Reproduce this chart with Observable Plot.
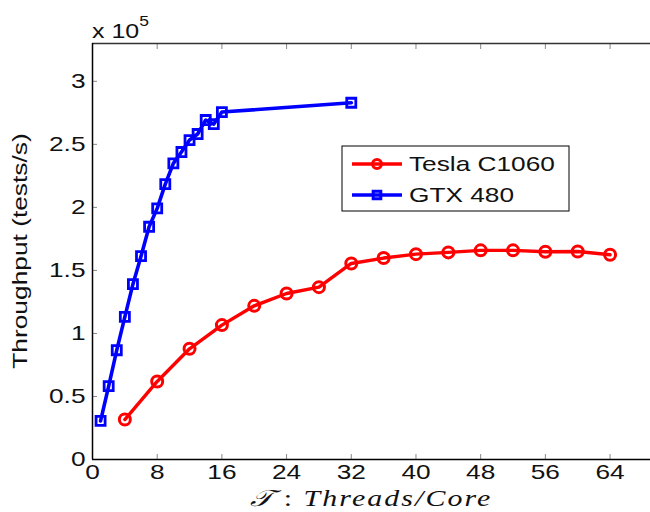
<!DOCTYPE html>
<html><head><meta charset="utf-8">
<script src="https://cdn.jsdelivr.net/npm/d3@7"></script>
<script src="https://cdn.jsdelivr.net/npm/@observablehq/plot@0.6"></script>
<style>body{margin:0;background:#fff} svg{display:block}</style>
</head><body><div id="chart"></div>
<script>
// ---- data ----
const teslaThreads = [4, 8, 12, 16, 20, 24, 28, 32, 36, 40, 44, 48, 52, 56, 60, 64];
const teslaThroughput = [31700, 61900, 87800, 106600, 121900, 131700, 136700, 155500, 159800, 162900, 164300, 165900, 165900, 164800, 165000, 162400];
const gtxThreads = [1, 2, 3, 4, 5, 6, 7, 8, 9, 10, 11, 12, 13, 14, 15, 16, 32];
const gtxThroughput = [30600, 58200, 86700, 113200, 139100, 161300, 184600, 199200, 218500, 234900, 243900, 253400, 258200, 269300, 266100, 275600, 283000];
const seriesNames = ["Tesla C1060", "GTX 480"];
const seriesColors = ["#ff0000", "#0000ff"];
const seriesSymbols = ["circle", "square"];
const xTicks = [0, 8, 16, 24, 32, 40, 48, 56, 64];
const yTicks = [0, 50000, 100000, 150000, 200000, 250000, 300000];
const xDomain = [0, 69];
const yDomain = [0, 330000];
const yExponent = 5;
const xLabel = "Threads/Core";
const yLabel = "Throughput (tests/s)";

const tesla = teslaThreads.map((t, i) => ({t, v: teslaThroughput[i]}));
const gtx = gtxThreads.map((t, i) => ({t, v: gtxThroughput[i]}));

const SANS = "'Liberation Sans', Arial, Helvetica, sans-serif";
const STRETCH = 1.25;

const plot = Plot.plot({
  width: 650, height: 512,
  marginLeft: 92, marginRight: 0, marginTop: 43, marginBottom: 53,
  style: {fontFamily: SANS, fontSize: "21px", background: "white", color: "black", overflow: "visible"},
  x: {domain: xDomain},
  y: {domain: yDomain},
  marks: [
    Plot.axisX(xTicks, {anchor: "bottom", tickSize: -5, stroke: "#888", text: null, label: null}),
    Plot.axisX(xTicks, {anchor: "top", tickSize: -5, stroke: "#888", text: null, label: null}),
    Plot.axisY(yTicks, {anchor: "left", tickSize: -5, stroke: "#888", text: null, label: null}),
    Plot.axisX(xTicks, {anchor: "bottom", tickSize: 0, tickPadding: 5, label: null, fill: "#111"}),
    Plot.axisY(yTicks, {anchor: "left", tickSize: 0, tickPadding: 7, label: null, fill: "#111", tickFormat: d => String(d / 10 ** yExponent)}),
    Plot.ruleY([yDomain[0]], {stroke: "#000", strokeWidth: 1.5}),
    Plot.ruleY([yDomain[1]], {stroke: "#333", strokeWidth: 1.5}),
    Plot.ruleX([xDomain[0]], {stroke: "#000", strokeWidth: 1.5}),
    Plot.line(tesla, {x: "t", y: "v", stroke: seriesColors[0], strokeWidth: 3.4}),
    Plot.dot(tesla, {x: "t", y: "v", r: 5.5, symbol: seriesSymbols[0], stroke: seriesColors[0], strokeWidth: 3, fill: "none"}),
    Plot.line(gtx, {x: "t", y: "v", stroke: seriesColors[1], strokeWidth: 3.6}),
    Plot.dot(gtx, {x: "t", y: "v", r: 5.1, symbol: seriesSymbols[1], stroke: seriesColors[1], strokeWidth: 2.8, fill: "none"})
  ]
});

// stretch all text along its baseline (reference text is wide)
d3.select(plot).selectAll("text").each(function() {
  const el = d3.select(this);
  const tr = el.attr("transform");
  if (tr) el.attr("transform", tr + ` scale(${STRETCH},1)`);
  else {
    const x = +el.attr("x") || 0, y = +el.attr("y") || 0;
    el.attr("x", null).attr("y", null).attr("transform", `translate(${x},${y}) scale(${STRETCH},1)`);
  }
});

const svg = d3.select(plot);
// y label
svg.append("text").attr("transform", `translate(27,251) rotate(-90) scale(1.35,1)`)
  .attr("text-anchor", "middle").attr("font-family", SANS).attr("font-size", 19.5).attr("fill", "#111").text(yLabel);

// exponent label
const ex = svg.append("text").attr("transform", `translate(92,38) scale(${STRETCH},1)`)
  .attr("text-anchor", "start").attr("font-family", SANS).attr("font-size", 20).attr("fill", "#111");
ex.append("tspan").text("x 10");
ex.append("tspan").attr("font-size", 14).attr("dy", -12).text(String(yExponent));

// x label
const xl = svg.append("text").attr("transform", `translate(371,506) scale(1.3,1)`)
  .attr("text-anchor", "middle").attr("font-family", "'Liberation Serif', 'Times New Roman', serif")
  .attr("font-style", "italic").attr("font-size", 23).attr("letter-spacing", 1.6).attr("fill", "#111");
xl.append("tspan").attr("font-family", "'DejaVu Serif', 'DejaVu Sans', serif").text("\u{1D4AF}");
xl.append("tspan").attr("font-style", "normal").text(" : ");
xl.append("tspan").text(xLabel);

// legend
const lg = svg.append("g");
lg.append("rect").attr("x", 342).attr("y", 146).attr("width", 227).attr("height", 65)
  .attr("fill", "white").attr("stroke", "#000").attr("stroke-width", 1);
seriesNames.forEach((name, i) => {
  const cy = 164 + i * 31;
  lg.append("line").attr("x1", 352).attr("x2", 402).attr("y1", cy).attr("y2", cy)
    .attr("stroke", seriesColors[i]).attr("stroke-width", 3.4);
  const sym = d3.symbol(i === 0 ? d3.symbolCircle : d3.symbolSquare, Math.PI * (i === 0 ? 4.5 : 4.3) ** 2);
  lg.append("path").attr("d", sym()).attr("transform", `translate(377,${cy})`)
    .attr("fill", "none").attr("stroke", seriesColors[i]).attr("stroke-width", 3);
  lg.append("text").attr("transform", `translate(409,${cy}) scale(${STRETCH},1)`)
    .attr("text-anchor", "start").attr("dy", "0.35em").attr("font-family", SANS).attr("font-size", 21).attr("fill", "#111").text(name);
});

document.getElementById("chart").append(plot);
</script>
</body></html>
